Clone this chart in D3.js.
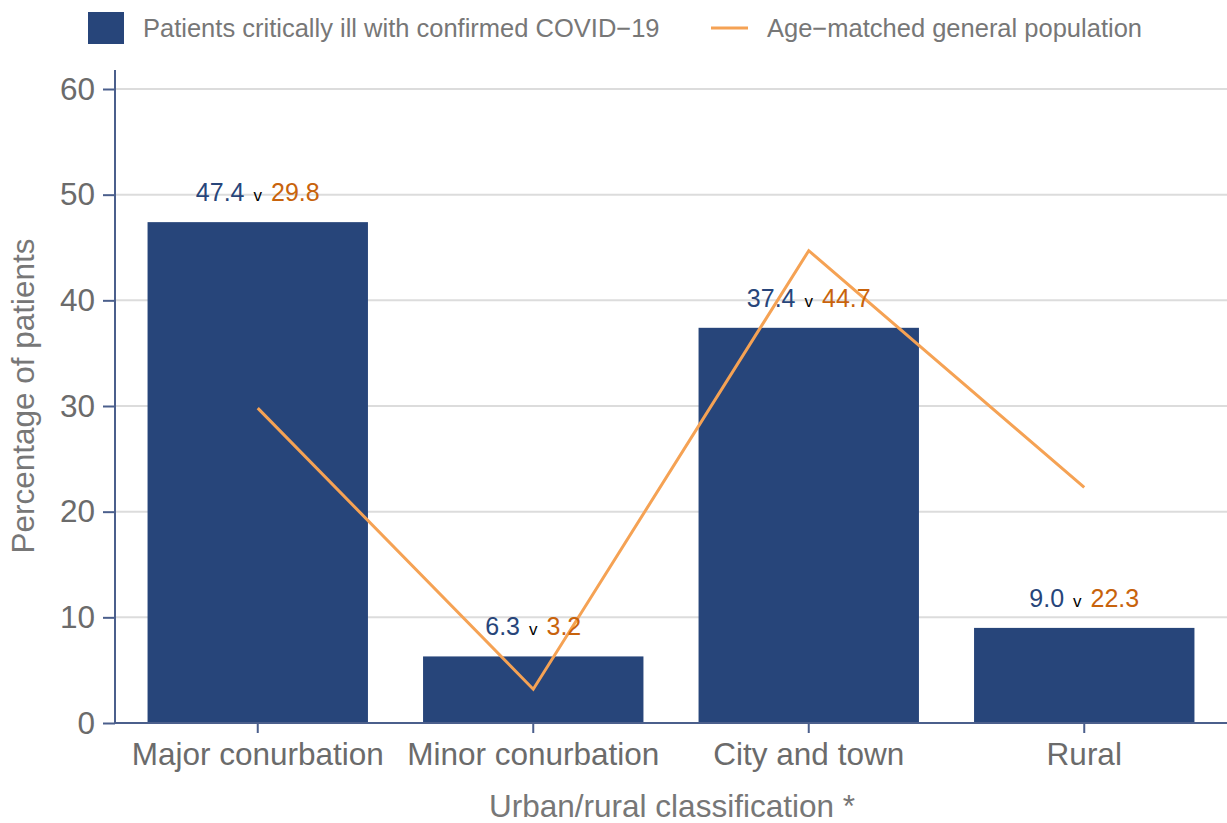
<!DOCTYPE html>
<html>
<head>
<meta charset="utf-8">
<script src="https://cdn.jsdelivr.net/npm/d3@7"></script>
<style>
  body { margin: 0; background: #fff; }
  text { font-family: "Liberation Sans", Arial, sans-serif; }
</style>
</head>
<body>
<div id="chart"></div>
<script>
// chart data
var categories = ["Major conurbation", "Minor conurbation", "City and town", "Rural"];
var covidValues = [47.4, 6.3, 37.4, 9.0];
var populationValues = [29.8, 3.2, 44.7, 22.3];
var yTicks = [0, 10, 20, 30, 40, 50, 60];
var seriesNames = ["Patients critically ill with confirmed COVID\u221219", "Age\u2212matched general population"];

var width = 1227, height = 823;
var barColor = "#27457a", lineColor = "#f5a254", labelOrange = "#c8630c", axisColor = "#4b5f8c";

var svg = d3.select("#chart").append("svg")
    .attr("width", width)
    .attr("height", height);

var x = d3.scaleBand()
    .domain(categories)
    .range([120, 1222])
    .paddingInner(0.2)
    .paddingOuter(0.1);

var y = d3.scaleLinear()
    .domain([0, 60])
    .range([723, 89]);

// gridlines
svg.append("g")
    .selectAll("line")
    .data(yTicks)
    .enter().append("line")
    .attr("x1", 115).attr("x2", width)
    .attr("y1", function(d) { return y(d); })
    .attr("y2", function(d) { return y(d); })
    .attr("stroke", "#dcdcdc")
    .attr("stroke-width", 2);

// bars
svg.append("g")
    .selectAll("rect")
    .data(covidValues)
    .enter().append("rect")
    .attr("x", function(d, i) { return x(categories[i]); })
    .attr("y", function(d) { return y(d); })
    .attr("width", x.bandwidth())
    .attr("height", function(d) { return y(0) - y(d); })
    .attr("fill", barColor);

// line for general population
var line = d3.line()
    .x(function(d, i) { return x(categories[i]) + x.bandwidth() / 2; })
    .y(function(d) { return y(d); });

svg.append("path")
    .datum(populationValues)
    .attr("d", line)
    .attr("fill", "none")
    .attr("stroke", lineColor)
    .attr("stroke-width", 3);

// value labels
var labels = svg.append("g")
    .selectAll("text")
    .data(covidValues)
    .enter().append("text")
    .attr("x", function(d, i) { return x(categories[i]) + x.bandwidth() / 2; })
    .attr("y", function(d) { return y(d) - 21; })
    .attr("text-anchor", "middle")
    .style("font-size", "25px");
labels.append("tspan")
    .attr("fill", barColor)
    .text(function(d) { return d.toFixed(1); });
labels.append("tspan")
    .attr("fill", "#000")
    .style("font-size", "17px")
    .attr("dx", 9)
    .text("v");
labels.append("tspan")
    .attr("fill", labelOrange)
    .attr("dx", 9)
    .text(function(d, i) { return populationValues[i].toFixed(1); });

// y axis
var yAxis = svg.append("g")
    .attr("transform", "translate(115,0)")
    .call(d3.axisLeft(y).tickValues(yTicks).tickSize(12).tickPadding(8));
yAxis.select(".domain").remove();
yAxis.selectAll(".tick line").attr("stroke", axisColor).attr("stroke-width", 2);
yAxis.selectAll(".tick text")
    .attr("fill", "#6b6b6b")
    .style("font-size", "31.5px")
    .style("font-family", "Liberation Sans, Arial, sans-serif");
svg.append("line")
    .attr("x1", 115).attr("x2", 115)
    .attr("y1", 70).attr("y2", 724)
    .attr("stroke", axisColor).attr("stroke-width", 2);

// x axis
var xAxis = svg.append("g")
    .attr("transform", "translate(0,723)")
    .call(d3.axisBottom(x).tickSize(10).tickPadding(10));
xAxis.select(".domain").remove();
xAxis.selectAll(".tick line").attr("stroke", axisColor).attr("stroke-width", 2);
xAxis.selectAll(".tick text")
    .attr("fill", "#6b6b6b")
    .style("font-size", "31.5px")
    .style("font-family", "Liberation Sans, Arial, sans-serif");
svg.append("line")
    .attr("x1", 114).attr("x2", width)
    .attr("y1", 723).attr("y2", 723)
    .attr("stroke", axisColor).attr("stroke-width", 2);

// axis titles
svg.append("text")
    .attr("x", 672)
    .attr("y", 817)
    .attr("text-anchor", "middle")
    .attr("fill", "#777")
    .style("font-size", "31.5px")
    .text("Urban/rural classification *");

svg.append("text")
    .attr("transform", "translate(34,396) rotate(-90)")
    .attr("text-anchor", "middle")
    .attr("fill", "#777")
    .style("font-size", "31.5px")
    .text("Percentage of patients");

// legend
var legend = svg.append("g");
legend.append("rect")
    .attr("x", 88).attr("y", 12)
    .attr("width", 36).attr("height", 32)
    .attr("fill", barColor);
legend.append("text")
    .attr("x", 143).attr("y", 37)
    .attr("fill", "#777")
    .style("font-size", "25.5px")
    .text(seriesNames[0]);
legend.append("line")
    .attr("x1", 711).attr("x2", 748)
    .attr("y1", 28).attr("y2", 28)
    .attr("stroke", lineColor).attr("stroke-width", 3);
legend.append("text")
    .attr("x", 767).attr("y", 37)
    .attr("fill", "#777")
    .style("font-size", "25.5px")
    .text(seriesNames[1]);
</script>
</body>
</html>
